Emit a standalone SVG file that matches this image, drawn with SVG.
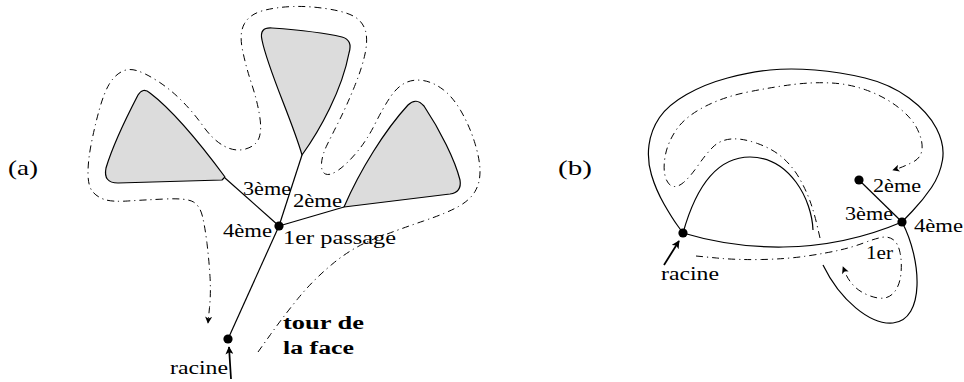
<svg xmlns="http://www.w3.org/2000/svg" width="964" height="382" viewBox="0 0 964 382">
<style>
.bg{fill:#ffffff}
.face{fill:#dcdcdc;stroke:#000;stroke-width:1.2;stroke-linejoin:round}
.edge{fill:none;stroke:#000;stroke-width:1.2}
.tour{fill:none;stroke:#000;stroke-width:1;stroke-dasharray:7 4 1.2 4}
.root{fill:none;stroke:#000;stroke-width:1.8}
.dot{fill:#000}
.t{font-family:'Liberation Serif','Times New Roman',serif;font-size:18px;fill:#000}
.big{font-size:21px}
.bold{font-weight:bold}
</style>
<defs>
<marker id="ah" viewBox="0 0 10 10" refX="9" refY="5" markerWidth="8" markerHeight="7" orient="auto" markerUnits="userSpaceOnUse">
<path d="M0,0 L10,5 L0,10 L2.5,5 z" fill="#000"/>
</marker>
<marker id="rh" viewBox="0 0 10 10" refX="9" refY="5" markerWidth="9" markerHeight="8" orient="auto" markerUnits="userSpaceOnUse">
<path d="M0,0 L10,5 L0,10 L2.5,5 z" fill="#000"/>
</marker>
</defs>
<rect class="bg" x="0" y="0" width="964" height="382"/>

<!-- (a) -->
<text id="label-a" class="t big" font-family="Liberation Serif, serif" x="8" y="175" textLength="30" lengthAdjust="spacingAndGlyphs">(a)</text>

<g id="a-faces">
<path id="a-face-left" class="face" d="M225,177 C205,150 175,112 150,93 Q143,87 138,95 C125,120 112,148 106,168 Q103,183 118,183 L222,180 Z"/>
<path id="a-face-top" class="face" d="M302,155 C292,120 268,70 262,40 Q259,27 272,28 C300,30 325,33 342,37 Q353,40 349,53 C342,90 320,130 302,155 Z"/>
<path id="a-face-right" class="face" d="M344,207 C360,170 385,130 408,105 Q416,97 424,106 C440,130 455,160 460,180 Q462,192 450,194 L344,207 Z"/>
</g>

<g id="a-connectors">
<line class="edge" x1="279" y1="226" x2="225" y2="178"/>
<line class="edge" x1="279" y1="226" x2="344" y2="207"/>
<line class="edge" x1="279" y1="226" x2="302" y2="155"/>
<line class="edge" x1="279" y1="226" x2="228" y2="339"/>
<path class="tour" marker-end="url(#ah)" d="M258,352 L270.5,334.5 Q283,317 298,298.5 Q313,280 333,263.5 Q353,247 376.5,238 Q400,229 423.5,221 Q447,213 458.5,206.5 Q470,200 475,191.5 Q480,183 480,171.5 Q480,160 475,143.5 Q470,127 461.5,112 Q453,97 443,89.5 Q433,82 423,80.5 Q413,79 405,83 Q397,87 390,97.5 Q383,108 375,124 Q367,140 357,152 Q347,164 338.5,170 Q330,176 325.5,174 Q321,172 321.5,163.5 Q322,155 327.5,144 Q333,133 340,119 Q347,105 354.5,86.5 Q362,68 365,54 Q368,40 365.5,31 Q363,22 355,17 Q347,12 328.5,9 Q310,6 293.5,6.5 Q277,7 263.5,10.5 Q250,14 244.5,23.5 Q239,33 242.5,50 Q246,67 251.5,83.5 Q257,100 259.5,115 Q262,130 259,138 Q256,146 245.5,149 Q235,152 224,146 Q213,140 203,126 Q193,112 181.5,100.5 Q170,89 157.5,81 Q145,73 136.5,70.5 Q128,68 121,72 Q114,76 109,84.5 Q104,93 99.5,109 Q95,125 91.5,142.5 Q88,160 88,173 Q88,186 92.5,191.5 Q97,197 104.5,199.5 Q112,202 127.5,201 Q143,200 165,199 Q187,198 193.5,202 Q200,206 202.5,216.5 Q205,227 207,243.5 Q209,260 210,276.5 Q211,293 209.5,307.5 L208,323"/>
<path class="root" marker-end="url(#rh)" d="M231,379 L229,347"/>
</g>

<g id="a-node-center"><circle class="dot" cx="279" cy="226" r="4.6"/></g>
<g id="a-node-root"><circle class="dot" cx="228" cy="339" r="4.6"/></g>

<g id="a-labels">
<text class="t" x="243" y="195" textLength="48" lengthAdjust="spacingAndGlyphs">3ème</text>
<text class="t" x="293" y="207" textLength="49" lengthAdjust="spacingAndGlyphs">2ème</text>
<text class="t" x="223" y="237" textLength="49" lengthAdjust="spacingAndGlyphs">4ème</text>
<text class="t" x="283" y="244" textLength="113" lengthAdjust="spacingAndGlyphs">1er passage</text>
<text class="t bold" x="283" y="329" textLength="81" lengthAdjust="spacingAndGlyphs">tour de</text>
<text class="t bold" x="283" y="354" textLength="71" lengthAdjust="spacingAndGlyphs">la face</text>
<text class="t" x="170" y="374" textLength="58" lengthAdjust="spacingAndGlyphs">racine</text>
</g>

<!-- (b) -->
<text id="label-b" class="t big" x="558" y="175" textLength="34" lengthAdjust="spacingAndGlyphs">(b)</text>

<g id="b-connectors">
<path class="edge" d="M683,233 L677.5,225.5 Q672,218 664,204 Q656,190 651.5,175 Q647,160 649,145 Q651,130 659.5,117.5 Q668,105 686.5,94.5 Q705,84 727.5,78 Q750,72 770,70 Q790,68 815,70 Q840,72 865,78 Q890,84 909,98 Q928,112 936.5,128.5 Q945,145 942.5,160 Q940,175 931.5,187.5 Q923,200 912.5,211 L902,222"/>
<path class="edge" d="M683,233 C695,190 715,157 750,157 C790,157 812,200 813,230"/>
<path class="edge" d="M823,265 C840,300 870,325 893,323 C925,320 922,260 902,222"/>
<path class="edge" d="M683,233 C740,250 820,257 902,222"/>
<line class="edge" x1="859" y1="180" x2="902" y2="222"/>
<path class="tour" marker-end="url(#ah)" d="M820,238 L817,225 Q814,212 810,201 Q806,190 799.5,178.5 Q793,167 783,158 Q773,149 757.5,143.5 Q742,138 731,139 Q720,140 713,147 Q706,154 698,165.5 Q690,177 683.5,182.5 Q677,188 672,186 Q667,184 665,175.5 Q663,167 665.5,154.5 Q668,142 676.5,129.5 Q685,117 704,107 Q723,97 748,92 Q773,87 793,84.5 Q813,82 831.5,83 Q850,84 867.5,90.5 Q885,97 898.5,107.5 Q912,118 917.5,129.5 Q923,141 922,149.5 Q921,158 913,162 Q905,166 899.5,168 L893,170"/>
<path class="tour" marker-end="url(#ah)" d="M696,256 L716.5,258 Q737,260 762,259.5 Q787,259 807,256 Q827,253 840,250 Q853,247 863.5,243 Q874,239 881,237.5 Q888,236 893,239.5 Q898,243 900,252.5 Q902,262 901,273 Q900,284 895.5,290.5 Q891,297 884.5,298 Q878,299 869,295.5 Q860,292 854.5,286.5 Q849,281 846,274.5 L843,267"/>
<path class="root" marker-end="url(#rh)" d="M664,265 L679,241"/>
</g>

<g id="b-node-root"><circle class="dot" cx="683" cy="233" r="4.6"/></g>
<g id="b-node-4"><circle class="dot" cx="902" cy="222" r="4.6"/></g>
<g id="b-node-2"><circle class="dot" cx="859" cy="180" r="4.6"/></g>

<g id="b-labels">
<text class="t" x="873" y="192" textLength="48" lengthAdjust="spacingAndGlyphs">2ème</text>
<text class="t" x="845" y="220" textLength="48" lengthAdjust="spacingAndGlyphs">3ème</text>
<text class="t" x="914" y="232" textLength="49" lengthAdjust="spacingAndGlyphs">4ème</text>
<text class="t" x="866" y="259" textLength="27" lengthAdjust="spacingAndGlyphs">1er</text>
<text class="t" x="661" y="280" textLength="58" lengthAdjust="spacingAndGlyphs">racine</text>
</g>
</svg>
